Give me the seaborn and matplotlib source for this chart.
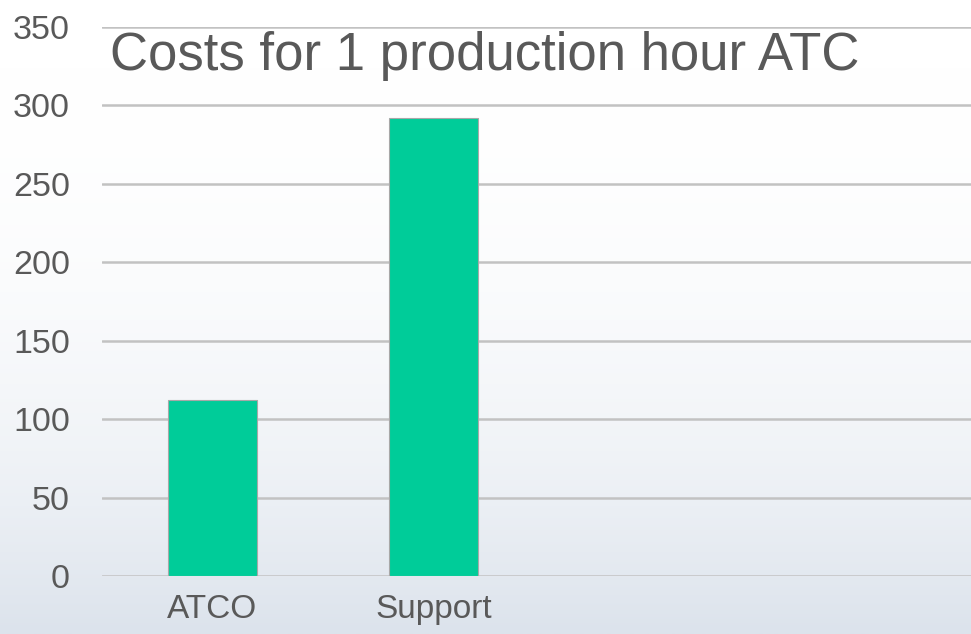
import matplotlib.pyplot as plt
import seaborn as sns
import numpy as np
import pandas as pd

# values
categories = ['ATCO', 'Support']
costs = [112, 292]
y_ticks = [0, 50, 100, 150, 200, 250, 300, 350]

df = pd.DataFrame({'category': categories, 'cost': costs})

sns.set_style('white')
plt.rcParams['font.family'] = ['Liberation Sans', 'DejaVu Sans']

fig = plt.figure(figsize=(9.71, 6.34), dpi=100)

# faint background wash (the original has a pale photo behind the chart)
bg = fig.add_axes([0, 0, 1, 1], zorder=0)
grad = np.linspace(0, 1, 256).reshape(-1, 1) ** 2.5
bg.imshow(grad, aspect='auto', cmap=sns.blend_palette(['#ffffff', '#dce3ec'], as_cmap=True),
          extent=[0, 1, 0, 1], origin='upper')
bg.axis('off')

# plot area runs slightly past the right edge, like the original slide
ax = fig.add_axes([102 / 971, 58 / 634, 884 / 971, 549 / 634], zorder=1)
ax.patch.set_alpha(0)

sns.barplot(data=df, x='category', y='cost', color='#00cc99', width=0.4,
            edgecolor='#a8a8a8', linewidth=0.8, saturation=1, ax=ax, zorder=3)

ax.set_xlim(-0.5, 3.5)
ax.set_ylim(0, 350)
ax.set_yticks(y_ticks)
ax.yaxis.grid(True, color='#c2c2c2', linewidth=1.8, zorder=0)
ax.set_axisbelow(True)
sns.despine(ax=ax, left=True, bottom=True, top=True, right=True)
ax.tick_params(axis='y', length=0, pad=23, labelsize=24.5, labelcolor='#595959')
ax.tick_params(axis='x', length=0, pad=13, labelsize=24, labelcolor='#595959')
ax.set_xlabel('')
ax.set_ylabel('')

ax.text(0.009, 0.993, 'Costs for 1 production hour ATC', transform=ax.transAxes,
        fontsize=38, color='#595959', va='top', ha='left')

fig.savefig('out.png', dpi=100)
